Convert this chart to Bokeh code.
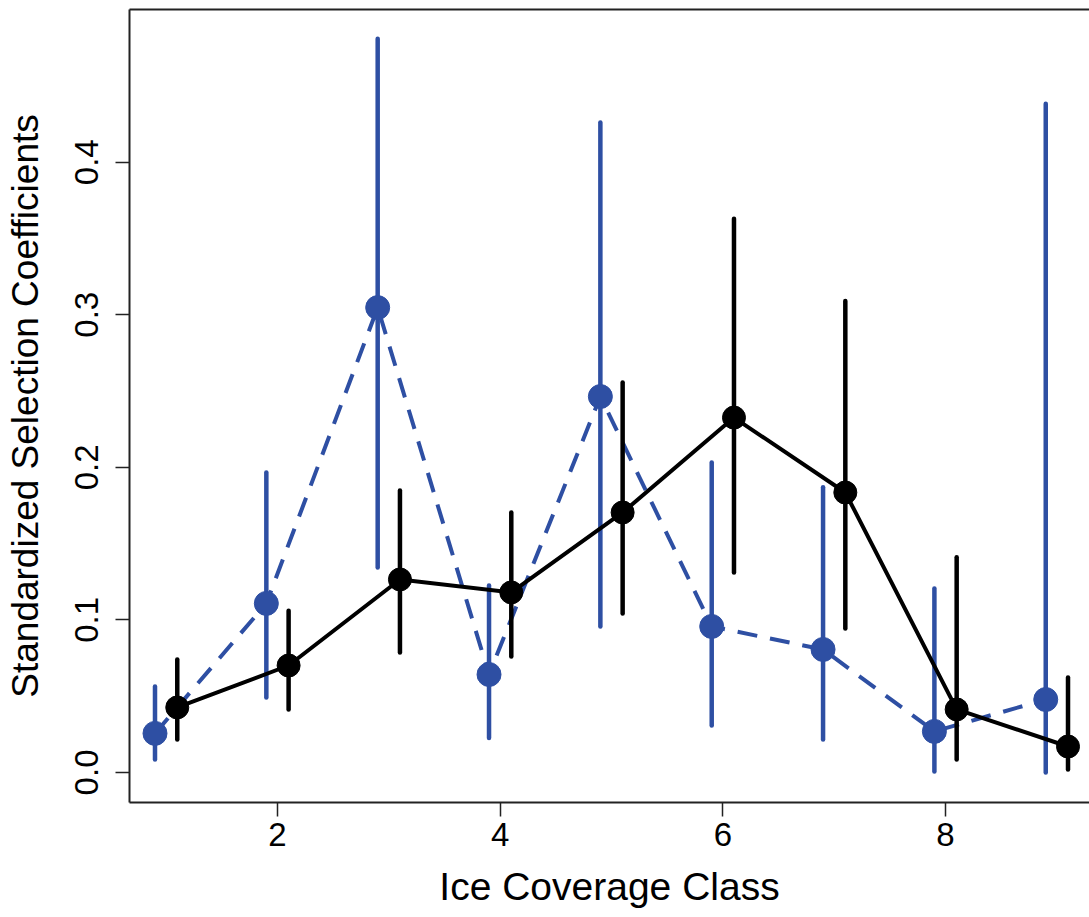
from bokeh.plotting import figure
from bokeh.models import Range1d, FixedTicker, LinearAxis, CustomJSTickFormatter
from bokeh.embed import file_html
from bokeh.resources import INLINE

# Ice coverage classes
classes = [1, 2, 3, 4, 5, 6, 7, 8, 9]

# Series A (black, solid), plotted at class + 0.1
a_est = [0.0426, 0.0701, 0.1265, 0.1180, 0.1704, 0.2326, 0.1835, 0.0413, 0.0170]
a_lo  = [0.0216, 0.0413, 0.0786, 0.0760, 0.1042, 0.1310, 0.0944, 0.0085, 0.0020]
a_hi  = [0.0740, 0.1060, 0.1848, 0.1704, 0.2556, 0.3630, 0.3090, 0.1410, 0.0623]

# Series B (blue, dashed), plotted at class - 0.1
b_est = [0.0256, 0.1108, 0.3047, 0.0642, 0.2464, 0.0957, 0.0806, 0.0269, 0.0478]
b_lo  = [0.0085, 0.0491, 0.1343, 0.0225, 0.0957, 0.0308, 0.0216, 0.0007, 0.0000]
b_hi  = [0.0564, 0.1966, 0.4810, 0.1225, 0.4260, 0.2032, 0.1870, 0.1206, 0.4384]

x_ticks = [2, 4, 6, 8]
y_ticks = [0.0, 0.1, 0.2, 0.3, 0.4]

BLUE = "#2E4FA3"
FONT = "Liberation Sans"

xa = [c + 0.1 for c in classes]
xb = [c - 0.1 for c in classes]

p = figure(width=1089, height=917, output_backend="svg", toolbar_location=None,
           x_range=Range1d(0.671, 9.293), y_range=Range1d(-0.0197, 0.5001),
           min_border_left=129, min_border_right=0, min_border_top=9,
           min_border_bottom=115)
p.outline_line_color = None
p.xgrid.visible = False
p.ygrid.visible = False
p.background_fill_color = "white"
p.border_fill_color = "white"

# Series B (blue)
p.segment(x0=xb, y0=b_lo, x1=xb, y1=b_hi, line_color=BLUE, line_width=4.5,
          line_cap="round")
p.line(xb, b_est, line_color=BLUE, line_width=4, line_dash="20 13")
p.scatter(xb, b_est, size=24, fill_color=BLUE, line_color=BLUE)

# Series A (black)
p.segment(x0=xa, y0=a_lo, x1=xa, y1=a_hi, line_color="black", line_width=4.5,
          line_cap="round")
p.line(xa, a_est, line_color="black", line_width=4)
p.scatter(xa, a_est, size=23, fill_color="black", line_color="black")

# Axes
xax = p.xaxis[0]
xax.ticker = FixedTicker(ticks=x_ticks)
xax.axis_label = "Ice Coverage Class"
yax = p.yaxis[0]
yax.ticker = FixedTicker(ticks=y_ticks)
yax.formatter = CustomJSTickFormatter(code="return tick.toFixed(1);")
yax.axis_label = "Standardized Selection Coefficients"
yax.major_label_orientation = "vertical"

for ax in (xax, yax):
    ax.axis_line_color = "#222222"
    ax.axis_line_width = 2
    ax.major_tick_line_color = "#222222"
    ax.major_tick_line_width = 1.5
    ax.major_tick_out = 14
    ax.major_tick_in = 0
    ax.minor_tick_line_color = None
    ax.major_label_text_font = FONT
    ax.major_label_text_font_size = "33px"
    ax.major_label_text_color = "black"
    ax.axis_label_text_font = FONT
    ax.axis_label_text_font_style = "normal"
    ax.axis_label_text_color = "black"

xax.axis_label_text_font_size = "39px"
yax.axis_label_text_font_size = "37px"
xax.major_label_standoff = 6
xax.axis_label_standoff = 16
yax.major_label_standoff = 17
yax.axis_label_standoff = 27

top = LinearAxis(ticker=FixedTicker(ticks=[]), axis_line_color="#222222",
                 axis_line_width=2, major_tick_line_color=None,
                 minor_tick_line_color=None, major_label_text_font_size="0px")
p.add_layout(top, "above")

open("out.html", "w").write(file_html(p, INLINE))
